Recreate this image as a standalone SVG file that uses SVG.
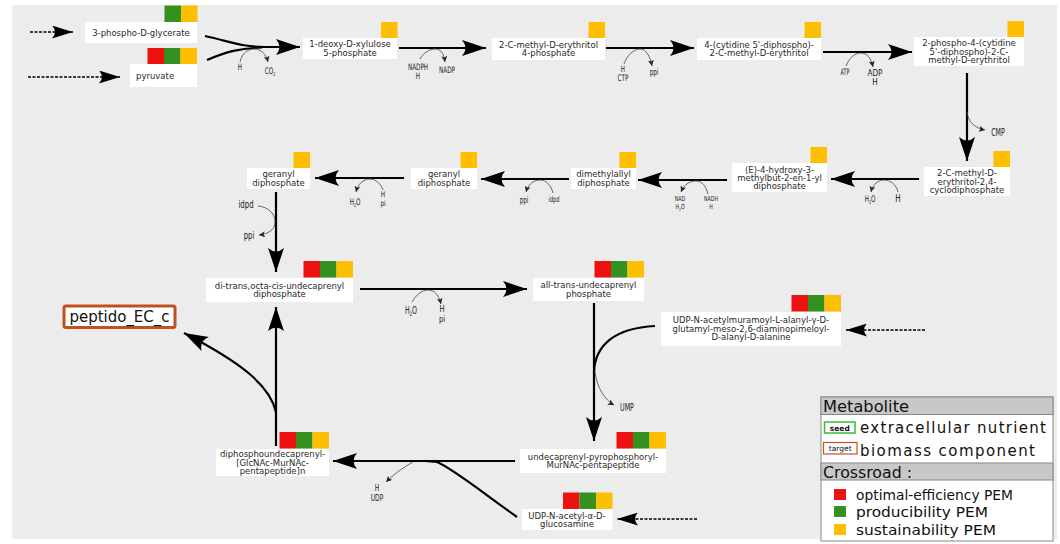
<svg xmlns="http://www.w3.org/2000/svg" width="1060" height="544" viewBox="0 0 1060 544">
<style>
.bx{fill:#fff}
.t{font-family:"DejaVu Sans","Liberation Sans",sans-serif;font-size:8.5px;fill:#2a2a2a;text-anchor:middle}
.s{font-family:"DejaVu Sans Condensed","DejaVu Sans",sans-serif;fill:#222;text-anchor:middle}
.m{fill:none;stroke:#000;stroke-width:2.2}
.d{fill:none;stroke:#000;stroke-width:1.5;stroke-dasharray:3 1.5}
.a{fill:none;stroke:#444;stroke-width:0.8}
.r{fill:#ee1111}.g{fill:#35911f}.y{fill:#fdbf00}
.lg{font-family:"DejaVu Sans","Liberation Sans",sans-serif;fill:#111}
.lc{font-family:"DejaVu Sans Condensed","DejaVu Sans",sans-serif;fill:#111}
</style>
<defs>
<marker id="big" markerUnits="userSpaceOnUse" markerWidth="26" markerHeight="16" refX="24" refY="8" orient="auto">
<path d="M0,0 L24,8 L0,16 Q7,8 0,0 Z" fill="#000"/>
</marker>
<marker id="dsh" markerUnits="userSpaceOnUse" markerWidth="22" markerHeight="13" refX="21" refY="6.5" orient="auto">
<path d="M0,0 L21,6.5 L0,13 Q6,6.5 0,0 Z" fill="#000"/>
</marker>
<marker id="sm" markerUnits="userSpaceOnUse" markerWidth="7" markerHeight="6" refX="6" refY="3" orient="auto">
<path d="M0,0 L6,3 L0,6 L1.5,3 Z" fill="#222"/>
</marker>
</defs>
<rect x="12" y="5" width="1045" height="534" fill="#ececec"/>

<g id="connectors">
<path class="d" d="M30,32 L73,32" marker-end="url(#dsh)"/>
<path class="d" d="M28,77 L120,77" marker-end="url(#dsh)"/>
<path class="d" d="M925,330 L846,330" marker-end="url(#dsh)"/>
<path class="d" d="M697,519 L617,519" marker-end="url(#dsh)"/>
<path class="m" d="M205,36 C232,42 242,47 265,47 L300,47" marker-end="url(#big)"/>
<path class="m" d="M207,60 C226,52 240,48 262,47.5"/>
<path class="a" d="M240,62 C242,53 248,49 254,49 C261,49 266,54 268,62" marker-end="url(#sm)"/>
<path class="m" d="M399,48 L486,48" marker-end="url(#big)"/>
<path class="a" d="M420,59 C424,52 430,49 435,49 C441,49 444,54 445,62" marker-end="url(#sm)"/>
<path class="m" d="M606,48 L694,48" marker-end="url(#big)"/>
<path class="a" d="M624,64 C627,55 634,49 640,49 C646,49 650,56 652,66" marker-end="url(#sm)"/>
<path class="m" d="M823,52 L912,52" marker-end="url(#big)"/>
<path class="a" d="M846,66 C849,58 855,53 861,53 C867,53 871,58 873,67" marker-end="url(#sm)"/>
<path class="m" d="M967,73 L967,161" marker-end="url(#big)"/>
<path class="a" d="M967,112 C968,122 975,128 985,130" marker-end="url(#sm)"/>
<path class="m" d="M919,179 L831,179" marker-end="url(#big)"/>
<path class="a" d="M898,192 C896,184 890,180 884,180 C878,180 873,184 871,192" marker-end="url(#sm)"/>
<path class="m" d="M727,180 L638,180" marker-end="url(#big)"/>
<path class="a" d="M708,194 C706,186 702,181 696,181 C689,181 684,185 681,192" marker-end="url(#sm)"/>
<path class="m" d="M569,179 L481,179" marker-end="url(#big)"/>
<path class="a" d="M553,193 C551,185 546,180 540,180 C533,180 528,185 526,192" marker-end="url(#sm)"/>
<path class="m" d="M404,178 L315,178" marker-end="url(#big)"/>
<path class="a" d="M383,190 C381,184 376,179 370,179 C363,179 358,184 356,192" marker-end="url(#sm)"/>
<path class="m" d="M276,192 L276,272" marker-end="url(#big)"/>
<path class="a" d="M258,206 C268,207 275,213 275,222 C275,230 268,234 259,235" marker-end="url(#sm)"/>
<path class="m" d="M360,289 L527,289" marker-end="url(#big)"/>
<path class="a" d="M412,302 C416,295 422,290 428,290 C435,290 439,296 441,304" marker-end="url(#sm)"/>
<path class="m" d="M594,303 L594,441" marker-end="url(#big)"/>
<path class="m" d="M655,326 C615,328 595,345 594,372"/>
<path class="a" d="M595,372 C597,388 605,400 614,405" marker-end="url(#sm)"/>
<path class="m" d="M515,461 L333,461" marker-end="url(#big)"/>
<path class="m" d="M517,517 C482,492 452,468 437,462 L425,461"/>
<path class="a" d="M413,462 C402,468 392,476 386,482" marker-end="url(#sm)"/>
<path class="m" d="M276,446 L276,307" marker-end="url(#big)"/>
<path class="m" d="M276,412 C270,385 240,362 184,333" marker-end="url(#big)"/>
</g>

<g id="side-labels">
<text class="s" font-size="9" transform="translate(240,70) scale(0.7,1)">H</text>
<text class="s" font-size="9" transform="translate(270,74) scale(0.7,1)">CO<tspan font-size="5" dy="2">2</tspan></text>
<text class="s" font-size="9" transform="translate(418,70) scale(0.7,1)">NADPH</text>
<text class="s" font-size="9" transform="translate(418,79) scale(0.7,1)">H</text>
<text class="s" font-size="9" transform="translate(447,73) scale(0.7,1)">NADP</text>
<text class="s" font-size="9" transform="translate(623,72) scale(0.7,1)">H</text>
<text class="s" font-size="9" transform="translate(623,81) scale(0.7,1)">CTP</text>
<text class="s" font-size="9" transform="translate(654,75) scale(0.7,1)">ppi</text>
<text class="s" font-size="9" transform="translate(845,75) scale(0.6,1)">ATP</text>
<text class="s" font-size="9" transform="translate(875,76) scale(0.9,1)">ADP</text>
<text class="s" font-size="9" transform="translate(875,85) scale(0.9,1)">H</text>
<text class="s" font-size="10" transform="translate(998,136) scale(0.7,1)">CMP</text>
<text class="s" font-size="9" transform="translate(870,202) scale(0.7,1)">H<tspan font-size="5" dy="2">2</tspan><tspan dy="-2">O</tspan></text>
<text class="s" font-size="10" transform="translate(898,202) scale(0.8,1)">H</text>
<text class="s" font-size="7" transform="translate(680,201) scale(0.75,1)">NAD</text>
<text class="s" font-size="7" transform="translate(680,209) scale(0.75,1)">H<tspan font-size="4.5" dy="1.5">2</tspan><tspan dy="-1.5">O</tspan></text>
<text class="s" font-size="7" transform="translate(711,201) scale(0.75,1)">NADH</text>
<text class="s" font-size="7" transform="translate(711,209) scale(0.75,1)">H</text>
<text class="s" font-size="9" transform="translate(524,203) scale(0.7,1)">ppi</text>
<text class="s" font-size="8" transform="translate(554,202) scale(0.7,1)">idpd</text>
<text class="s" font-size="9" transform="translate(355,205) scale(0.7,1)">H<tspan font-size="5" dy="2">2</tspan><tspan dy="-2">O</tspan></text>
<text class="s" font-size="8" transform="translate(383,197) scale(0.8,1)">H</text>
<text class="s" font-size="8" transform="translate(383,206) scale(0.8,1)">pi</text>
<text class="s" font-size="11" transform="translate(246,208) scale(0.7,1)">idpd</text>
<text class="s" font-size="11" transform="translate(249,239) scale(0.7,1)">ppi</text>
<text class="s" font-size="10" transform="translate(411,314) scale(0.7,1)">H<tspan font-size="6" dy="2">2</tspan><tspan dy="-2">O</tspan></text>
<text class="s" font-size="9.5" transform="translate(442,312) scale(0.8,1)">H</text>
<text class="s" font-size="9.5" transform="translate(442,322) scale(0.8,1)">pi</text>
<text class="s" font-size="10" transform="translate(627,411) scale(0.7,1)">UMP</text>
<text class="s" font-size="9.5" transform="translate(377,491) scale(0.7,1)">H</text>
<text class="s" font-size="9.5" transform="translate(377,501) scale(0.7,1)">UDP</text>
</g>

<g id="n-3pg">
<rect class="g" x="164.5" y="5.5" width="16.5" height="16.5"/><rect class="y" x="181" y="5.5" width="16.5" height="16.5"/>
<rect class="bx" x="85" y="22" width="112" height="21"/>
<text class="t" x="141" y="35.5">3-phospho-D-glycerate</text>
</g>
<g id="n-pyr">
<rect class="r" x="147.5" y="48" width="16.5" height="16.5"/><rect class="g" x="164" y="48" width="16.5" height="16.5"/><rect class="y" x="180.5" y="48" width="16.5" height="16.5"/>
<rect class="bx" x="130" y="64" width="67" height="23"/>
<text class="t" x="136" y="79" style="text-anchor:start">pyruvate</text>
</g>
<g id="n-dxp">
<rect class="y" x="381" y="22" width="16.5" height="16"/>
<rect class="bx" x="303" y="38" width="94" height="21"/>
<text class="t" x="350" y="47.3">1-deoxy-D-xylulose</text>
<text class="t" x="350" y="55.6">5-phosphate</text>
</g>
<g id="n-mep">
<rect class="y" x="588.5" y="22" width="16.5" height="16"/>
<rect class="bx" x="492" y="38" width="113" height="22"/>
<text class="t" x="548.5" y="47.8">2-C-methyl-D-erythritol</text>
<text class="t" x="548.5" y="56.1">4-phosphate</text>
</g>
<g id="n-cdpme">
<rect class="y" x="804.5" y="22" width="16.5" height="16"/>
<rect class="bx" x="697" y="38" width="124" height="22"/>
<text class="t" x="759" y="47.8">4-(cytidine 5'-diphospho)-</text>
<text class="t" x="759" y="56.1">2-C-methyl-D-erythritol</text>
</g>
<g id="n-cdpmep">
<rect class="y" x="1007.5" y="21" width="16.5" height="16"/>
<rect class="bx" x="914" y="37" width="110" height="29"/>
<text class="t" x="969" y="46.2">2-phospho-4-(cytidine</text>
<text class="t" x="969" y="54.5">5'-diphospho)-2-C-</text>
<text class="t" x="969" y="62.8">methyl-D-erythritol</text>
</g>
<g id="n-mecpp">
<rect class="y" x="993.5" y="151" width="16.5" height="16"/>
<rect class="bx" x="924" y="167" width="86" height="29"/>
<text class="t" x="967" y="176.2">2-C-methyl-D-</text>
<text class="t" x="967" y="184.5">erythritol-2,4-</text>
<text class="t" x="967" y="192.8">cyclodiphosphate</text>
</g>
<g id="n-hmbpp">
<rect class="y" x="810.5" y="147" width="16.5" height="16"/>
<rect class="bx" x="732" y="163" width="95" height="29"/>
<text class="t" x="779.5" y="172.7">(E)-4-hydroxy-3-</text>
<text class="t" x="779.5" y="181">methylbut-2-en-1-yl</text>
<text class="t" x="779.5" y="189.3">diphosphate</text>
</g>
<g id="n-dmapp">
<rect class="y" x="619.5" y="152" width="16.5" height="16"/>
<rect class="bx" x="571" y="168" width="65" height="21"/>
<text class="t" x="603.5" y="177.3">dimethylallyl</text>
<text class="t" x="603.5" y="185.6">diphosphate</text>
</g>
<g id="n-gpp2">
<rect class="y" x="460.5" y="152" width="16.5" height="16"/>
<rect class="bx" x="411" y="168" width="66" height="21"/>
<text class="t" x="444" y="177.3">geranyl</text>
<text class="t" x="444" y="185.6">diphosphate</text>
</g>
<g id="n-gpp1">
<rect class="y" x="293.5" y="152" width="16.5" height="16"/>
<rect class="bx" x="247" y="168" width="63" height="21"/>
<text class="t" x="278.5" y="177.3">geranyl</text>
<text class="t" x="278.5" y="185.6">diphosphate</text>
</g>
<g id="n-udpp">
<rect class="r" x="303.5" y="261" width="16.5" height="16.5"/><rect class="g" x="320" y="261" width="16.5" height="16.5"/><rect class="y" x="336.5" y="261" width="16.5" height="16.5"/>
<rect class="bx" x="206" y="278" width="147" height="24"/>
<text class="t" x="279.5" y="288.6">di-trans,octa-cis-undecaprenyl</text>
<text class="t" x="279.5" y="296.9">diphosphate</text>
</g>
<g id="n-udp">
<rect class="r" x="594.5" y="261" width="16.5" height="16.5"/><rect class="g" x="611" y="261" width="16.5" height="16.5"/><rect class="y" x="627.5" y="261" width="16.5" height="16.5"/>
<rect class="bx" x="533" y="278" width="111" height="23"/>
<text class="t" x="588.5" y="288.4">all-trans-undecaprenyl</text>
<text class="t" x="588.5" y="296.7">phosphate</text>
</g>
<g id="n-udpmur">
<rect class="r" x="791.5" y="295" width="16.5" height="16.5"/><rect class="g" x="808" y="295" width="16.5" height="16.5"/><rect class="y" x="824.5" y="295" width="16.5" height="16.5"/>
<rect class="bx" x="661" y="312" width="180" height="34"/>
<text class="t" x="751" y="323.4">UDP-N-acetylmuramoyl-L-alanyl-γ-D-</text>
<text class="t" x="751" y="331.7">glutamyl-meso-2,6-diaminopimeloyl-</text>
<text class="t" x="751" y="340">D-alanyl-D-alanine</text>
</g>
<g id="n-lipid1">
<rect class="r" x="616.5" y="432" width="16.5" height="16.5"/><rect class="g" x="633" y="432" width="16.5" height="16.5"/><rect class="y" x="649.5" y="432" width="16.5" height="16.5"/>
<rect class="bx" x="520" y="449" width="146" height="24"/>
<text class="t" x="593" y="459.8">undecaprenyl-pyrophosphoryl-</text>
<text class="t" x="593" y="468.1">MurNAc-pentapeptide</text>
</g>
<g id="n-udpglc">
<rect class="r" x="563" y="492.5" width="16.5" height="16.5"/><rect class="g" x="579.5" y="492.5" width="16.5" height="16.5"/><rect class="y" x="596" y="492.5" width="16.5" height="16.5"/>
<rect class="bx" x="522" y="509" width="90.5" height="21"/>
<text class="t" x="567" y="518.6">UDP-N-acetyl-α-D-</text>
<text class="t" x="567" y="526.9">glucosamine</text>
</g>
<g id="n-lipid2">
<rect class="r" x="279.5" y="432" width="16.5" height="16.5"/><rect class="g" x="296" y="432" width="16.5" height="16.5"/><rect class="y" x="312.5" y="432" width="16.5" height="16.5"/>
<rect class="bx" x="216" y="449" width="113" height="27"/>
<text class="t" x="272.5" y="457.4">diphosphoundecaprenyl-</text>
<text class="t" x="272.5" y="465.7">[GlcNAc-MurNAc-</text>
<text class="t" x="272.5" y="474">pentapeptide]n</text>
</g>
<g id="n-peptido">
<rect x="64" y="306" width="111" height="21.5" rx="2" fill="#fff" stroke="#c0501c" stroke-width="3"/>
<text class="lg" x="119.5" y="322" font-size="15" text-anchor="middle" textLength="100" lengthAdjust="spacing">peptido_EC_c</text>
</g>

<g id="legend">
<rect x="821" y="397" width="232" height="144" fill="#fff" stroke="#888" stroke-width="1"/>
<rect x="821" y="397" width="232" height="17.5" fill="#c8c8c8" stroke="#888" stroke-width="1"/>
<text class="lg" x="823" y="412" font-size="16" textLength="86" lengthAdjust="spacingAndGlyphs">Metabolite</text>
<rect x="824.5" y="422" width="30.5" height="11" fill="#fff" stroke="#2ec02e" stroke-width="1.5"/>
<text class="lg" x="839.8" y="430.6" font-size="7.5" font-weight="bold" text-anchor="middle">seed</text>
<text class="lg" x="860" y="433" font-size="15" textLength="186" lengthAdjust="spacing">extracellular nutrient</text>
<rect x="823.5" y="442.5" width="33.5" height="11.5" fill="#fff" stroke="#c8501e" stroke-width="1.2"/>
<text class="lg" x="840.2" y="451.2" font-size="7.5" text-anchor="middle">target</text>
<text class="lg" x="860" y="456" font-size="15" textLength="175" lengthAdjust="spacing">biomass component</text>
<rect x="821" y="463" width="232" height="17" fill="#c8c8c8" stroke="#888" stroke-width="1"/>
<text class="lg" x="823" y="478" font-size="16" textLength="89" lengthAdjust="spacingAndGlyphs">Crossroad :</text>
<rect class="r" x="834" y="489" width="12" height="11"/>
<text class="lc" x="856" y="500" font-size="14" textLength="157" lengthAdjust="spacingAndGlyphs">optimal-efficiency PEM</text>
<rect class="g" x="834" y="506" width="12" height="11"/>
<text class="lc" x="856" y="517" font-size="14" textLength="132" lengthAdjust="spacingAndGlyphs">producibility PEM</text>
<rect class="y" x="834" y="524" width="12" height="11"/>
<text class="lc" x="856" y="535" font-size="14" textLength="140" lengthAdjust="spacingAndGlyphs">sustainability PEM</text>
</g>
</svg>
